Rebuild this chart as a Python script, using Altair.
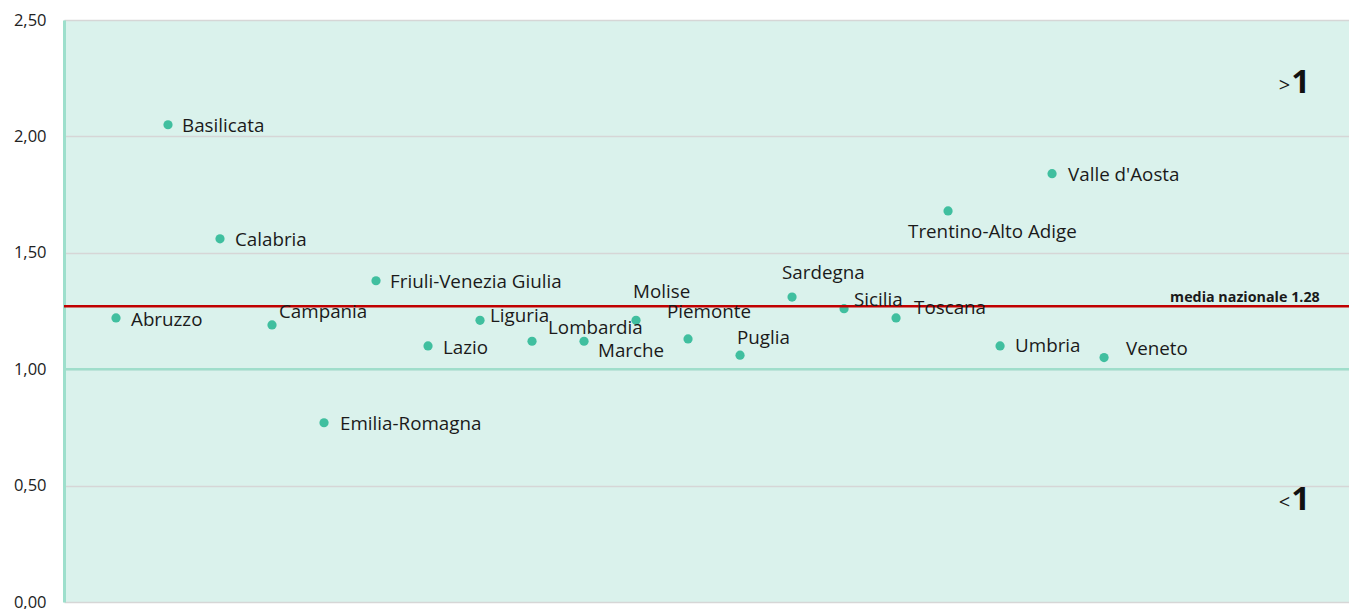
import altair as alt
import pandas as pd

# ---- data ----
regions = ["Abruzzo", "Basilicata", "Calabria", "Campania", "Emilia-Romagna",
           "Friuli-Venezia Giulia", "Lazio", "Liguria", "Lombardia", "Marche",
           "Molise", "Piemonte", "Puglia", "Sardegna", "Sicilia", "Toscana",
           "Trentino-Alto Adige", "Umbria", "Valle d'Aosta", "Veneto"]
values = [1.22, 2.05, 1.56, 1.19, 0.77, 1.38, 1.10, 1.21, 1.12, 1.12,
          1.21, 1.13, 1.06, 1.31, 1.26, 1.22, 1.68, 1.10, 1.84, 1.05]
positions = list(range(1, len(regions) + 1))

mean_value = [1.27]
mean_label = ["media nazionale 1.28"]
threshold = [1.0]
y_ticks = [0.0, 0.5, 1.0, 1.5, 2.0, 2.5]

zone_symbols = [">", "<"]
zone_y = [2.23, 0.44]
zone_x = [23.6, 23.6]

# label placement (pixel offsets relative to each point) -- styling
label_offsets = {
    "Abruzzo": (15, 2), "Basilicata": (14, 1), "Calabria": (15, 1),
    "Campania": (7, -13), "Emilia-Romagna": (16, 1),
    "Friuli-Venezia Giulia": (14, 1), "Lazio": (15, 2), "Liguria": (10, -4),
    "Lombardia": (16, -13), "Marche": (14, 10), "Molise": (-3, -28),
    "Piemonte": (-21, -27), "Puglia": (-3, -17), "Sardegna": (-10, -24),
    "Sicilia": (10, -9), "Toscana": (18, -10), "Trentino-Alto Adige": (-40, 21),
    "Umbria": (15, 0), "Valle d'Aosta": (16, 1), "Veneto": (22, -9),
}

df = pd.DataFrame({"region": regions, "value": values, "pos": positions})
mean_df = pd.DataFrame({"value": mean_value, "label": mean_label})
thr_df = pd.DataFrame({"value": threshold})
zone_df = pd.DataFrame({"sym": zone_symbols, "value": zone_y, "pos": zone_x})

X_DOMAIN = [0, 24.71]
LABEL_FONT = "Open Sans"

xscale = alt.Scale(domain=X_DOMAIN, nice=False, zero=False)
yscale = alt.Scale(domain=[0, 2.5], nice=False)

x_enc = alt.X("pos:Q", scale=xscale, axis=None)

y_axis = alt.Axis(
    values=y_ticks,
    labelExpr="replace(format(datum.value, '.2f'), '.', ',')",
    grid=True, gridColor="#d6d6d6", gridWidth=1.5,
    domain=True, domainColor="#9ddfcc", domainWidth=3,
    ticks=False, labelPadding=18, labelFontSize=16.5,
    labelColor="#222222", labelFont=LABEL_FONT, title=None,
)
y_enc = alt.Y("value:Q", scale=yscale, title=None, axis=y_axis)

thr_rule = alt.Chart(thr_df).mark_rule(color="#9fdecb", strokeWidth=2.5).encode(
    y=y_enc
)

mean_rule = alt.Chart(mean_df).mark_rule(color="#c00000", strokeWidth=2.5).encode(
    y=y_enc
)

mean_text = alt.Chart(mean_df).mark_text(
    align="left", baseline="middle", dx=0, dy=-8, fontSize=14.3,
    fontWeight="bold", font=LABEL_FONT, color="#1a1a1a"
).transform_calculate(pos="21.27").encode(
    x=x_enc, y=y_enc, text="label:N",
)

points = alt.Chart(df).mark_circle(size=85, opacity=1, color="#40bf9f").encode(
    x=x_enc, y=y_enc
)

label_layers = []
for reg in regions:
    dx, dy = label_offsets[reg]
    label_layers.append(
        alt.Chart(df).transform_filter(alt.datum.region == reg).mark_text(
            align="left", baseline="middle", dx=dx, dy=dy, fontSize=18.8,
            font=LABEL_FONT, color="#1a1a1a"
        ).encode(
            x=x_enc, y=y_enc, text="region:N",
        )
    )

zone_sym = alt.Chart(zone_df).mark_text(
    align="right", baseline="middle", fontSize=20, font=LABEL_FONT,
    color="#1a1a1a", dx=-1, dy=3
).encode(
    x=x_enc, y=y_enc, text="sym:N",
)
zone_one = alt.Chart(zone_df).mark_text(
    align="left", baseline="middle", fontSize=33, font=LABEL_FONT,
    fontWeight="bold", color="#111111", dx=0
).encode(
    x=x_enc, y=y_enc, text=alt.value("1"),
)

chart = alt.layer(
    points, thr_rule, mean_rule, mean_text, *label_layers, zone_sym, zone_one
).properties(
    width=1285, height=582,
    padding={"left": 56, "top": 12, "right": 0, "bottom": 8},
    autosize=alt.AutoSizeParams(type="none"),
    background="white",
).configure_view(
    fill="#daf2ec", strokeWidth=0
)

chart.save("out.html", embed_options={"renderer": "svg", "actions": False})
